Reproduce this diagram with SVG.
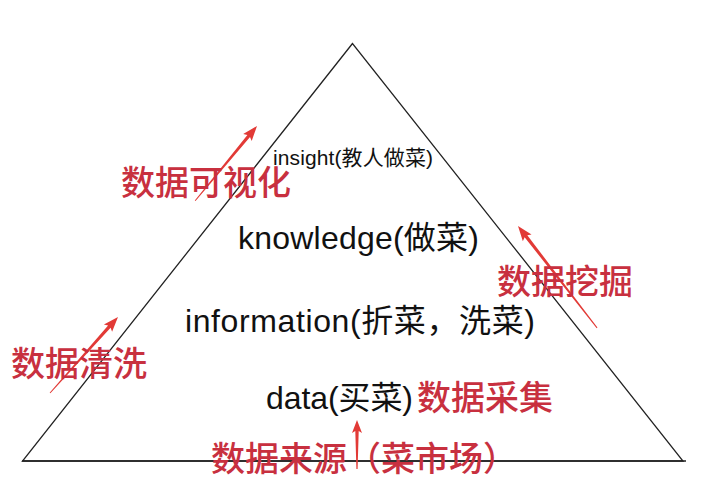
<svg xmlns="http://www.w3.org/2000/svg" width="720" height="480" viewBox="0 0 720 480">
  <style>
    .edge { fill: none; stroke: #222; stroke-width: 1.3; stroke-linejoin: miter; }
    .lbl { font-family: "Liberation Sans", "Noto Sans CJK SC", sans-serif; fill: #111; }
    .red { font-family: "Noto Sans CJK SC", "Noto Sans", sans-serif; fill: #c8303f; font-size: 34px; font-weight: 500; }
    .arrow { fill: #e23a36; stroke: none; }
  </style>
  <rect x="0" y="0" width="720" height="480" fill="#ffffff"/>

  <g id="pyramid">
    <polygon class="edge" points="352.5,43.5 22.5,461 683,461"/>
    <line class="edge" x1="22" y1="461" x2="686" y2="461"/>
  </g>

  <g id="level-insight">
    <text class="lbl" x="273" y="165" font-size="21" textLength="160">insight(教人做菜)</text>
  </g>
  <g id="level-knowledge">
    <text class="lbl" x="238" y="249" font-size="32" textLength="241">knowledge(做菜)</text>
  </g>
  <g id="level-information">
    <text class="lbl" x="185" y="332" font-size="32" textLength="350">information(折菜，洗菜)</text>
  </g>
  <g id="level-data">
    <text class="lbl" x="266" y="409" font-size="32" textLength="147">data(买菜)</text>
  </g>

  <g id="connectors">
    <path class="arrow" transform="translate(257,126) rotate(-50.4)" d="M0,0 L-15,-5.5 L-13,-1.7 L-97,-0.5 L-97,0.5 L-13,1.7 L-15,5.5 Z"/>
    <path class="arrow" transform="translate(118,317) rotate(-48.2)" d="M0,0 L-15,-5.5 L-13,-1.7 L-102,-0.5 L-102,0.5 L-13,1.7 L-15,5.5 Z"/>
    <path class="arrow" transform="translate(518,226) rotate(-127.8)" d="M0,0 L-15,-5.5 L-13,-1.7 L-129,-0.5 L-129,0.5 L-13,1.7 L-15,5.5 Z"/>
    <path class="arrow" transform="translate(357,420) rotate(-90)" d="M0,0 L-13,-5 L-11,-1.7 L-49,-0.6 L-49,0.6 L-11,1.7 L-13,5 Z"/>
  </g>

  <g id="step-visualization">
    <text class="red" x="121" y="195">数据可视化</text>
  </g>
  <g id="step-mining">
    <text class="red" x="497" y="294">数据挖掘</text>
  </g>
  <g id="step-cleaning">
    <text class="red" x="11" y="376">数据清洗</text>
  </g>
  <g id="step-collection">
    <text class="red" x="417" y="410">数据采集</text>
  </g>
  <g id="step-source">
    <text class="red" x="211" y="471">数据来源（菜市场）</text>
  </g>
</svg>
